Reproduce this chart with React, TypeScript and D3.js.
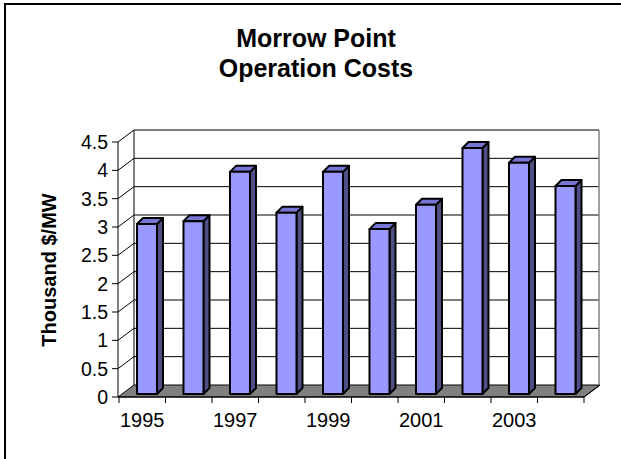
import React from "react";
import * as d3 from "d3";

const years = ["1995", "1996", "1997", "1998", "1999", "2000", "2001", "2002", "2003", "2004"];
const costs = [3.0, 3.05, 3.92, 3.2, 3.92, 2.91, 3.34, 4.34, 4.08, 3.67];
const yTicks = [0, 0.5, 1, 1.5, 2, 2.5, 3, 3.5, 4, 4.5];
const xLabels = ["1995", "1997", "1999", "2001", "2003"];
const titleLines = ["Morrow Point", "Operation Costs"];
const yTitle = "Thousand $/MW";

const FONT = "Arial, 'Liberation Sans', sans-serif";

export default function App() {
  const W = 621, H = 459;
  const x0 = 118, x1 = 584;
  const yBase = 397, yTop = 142;
  const DX = 16, DY = -12;
  const x = d3.scaleBand<string>().domain(years).range([x0 + 1, x1]).padding(0);
  const y = d3.scaleLinear().domain([0, 4.5]).range([yBase, yTop]);
  const bw = x.bandwidth();
  const barOff = bw * 0.387;
  const barW = bw * 0.43;
  const bdx = 6, bdy = -6;
  const barBaseShift = -3;

  const backL = x0 + DX, backR = x1 + DX - 1;

  return (
    <div style={{ position: "absolute", left: 0, top: 0 }}>
      <svg width={W} height={H} style={{ display: "block", background: "#fff" }}>
        <rect x={5} y={4} width={W + 20} height={H + 20} fill="#fff" stroke="#000" strokeWidth={2} />
        {titleLines.map((t, i) => (
          <text key={t} x={316} y={47 + i * 30} textAnchor="middle" fontFamily={FONT} fontWeight="bold" fontSize={25}>
            {t}
          </text>
        ))}
        <rect x={backL} y={y(4.5) + DY} width={backR - backL} height={y(0) - y(4.5)} fill="#fff" stroke="none" />
        <polygon
          points={`${x0},${yBase} ${x1},${yBase} ${x1 + DX},${yBase + DY} ${x0 + DX},${yBase + DY}`}
          fill="#808080"
          stroke="#000"
          strokeWidth={1}
        />
        {yTicks.map((t) => (
          <g key={t}>
            {t > 0 && (
              <polyline
                points={`${x0},${y(t)} ${backL},${y(t) + DY} ${backR},${y(t) + DY}`}
                fill="none"
                stroke="#000"
                strokeWidth={1}
              />
            )}
          </g>
        ))}
        <line x1={backL} x2={backL} y1={y(4.5) + DY} y2={yBase + DY} stroke="#000" strokeWidth={1} />
        <line x1={backR} x2={backR} y1={y(4.5) + DY} y2={yBase + DY} stroke="#808080" strokeWidth={1.5} />
        {years.map((yr, i) => {
          const v = costs[i];
          const bx = (x(yr) as number) + barOff;
          const bb = y(0) + barBaseShift;
          const bt = y(v) + barBaseShift;
          return (
            <g key={yr} stroke="#000" strokeWidth={2} strokeLinejoin="round">
              <polygon
                points={`${bx + barW},${bt} ${bx + barW + bdx},${bt + bdy} ${bx + barW + bdx},${bb + bdy} ${bx + barW},${bb}`}
                fill="#4f4f85"
              />
              <polygon
                points={`${bx},${bt} ${bx + bdx},${bt + bdy} ${bx + barW + bdx},${bt + bdy} ${bx + barW},${bt}`}
                fill="#7676d4"
              />
              <rect x={bx} y={bt} width={barW} height={bb - bt} fill="#9999FF" />
            </g>
          );
        })}
        <line x1={x0} x2={x0} y1={yBase} y2={yTop} stroke="#000" strokeWidth={1} />
        {yTicks.map((t) => (
          <g key={"yt" + t}>
            <line x1={x0 - 6} x2={x0} y1={y(t)} y2={y(t)} stroke="#000" strokeWidth={1} />
            <text x={108} y={y(t) + 7} textAnchor="end" fontFamily={FONT} fontSize={19.5}>
              {t}
            </text>
          </g>
        ))}
        <line x1={x0} x2={x1} y1={yBase} y2={yBase} stroke="#000" strokeWidth={1} />
        <line x1={x1} x2={x1 + DX} y1={yBase} y2={yBase + DY} stroke="#000" strokeWidth={1} />
        {years.map((yr) => (
          <line key={"xt" + yr} x1={x(yr) as number} x2={x(yr) as number} y1={yBase} y2={yBase + 6} stroke="#000" strokeWidth={1} />
        ))}
        <line x1={x1} x2={x1} y1={yBase} y2={yBase + 6} stroke="#000" strokeWidth={1} />
        {xLabels.map((yr) => (
          <text
            key={"xl" + yr}
            x={(x(yr) as number) + bw / 2}
            y={427}
            textAnchor="middle"
            fontFamily={FONT}
            fontSize={20}
          >
            {yr}
          </text>
        ))}
        <text
          transform={`translate(56,270) rotate(-90)`}
          textAnchor="middle"
          fontFamily={FONT}
          fontWeight="bold"
          fontSize={20}
        >
          {yTitle}
        </text>
      </svg>
    </div>
  );
}
